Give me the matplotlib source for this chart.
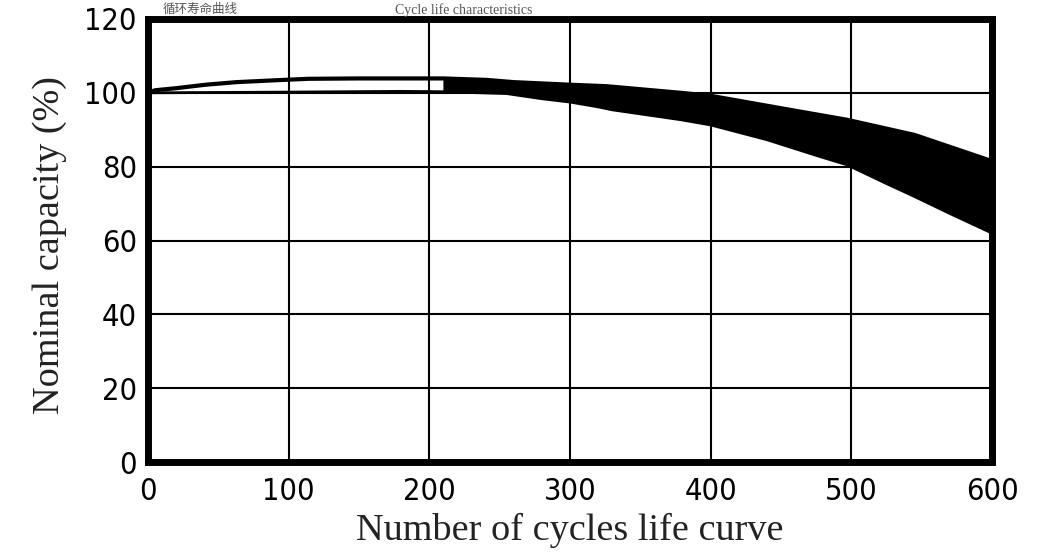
import matplotlib
matplotlib.use("Agg")
import matplotlib.pyplot as plt
import numpy as np

# upper / lower edge of the capacity band
cycles_upper = [0, 5, 21, 41, 63, 96, 114, 150, 200, 210, 241, 260, 300, 326, 379, 400, 455, 497, 545, 600]
cap_upper = [100, 100.7, 101.3, 102.2, 102.9, 103.5, 103.8, 103.9, 103.9, 103.9, 103.5, 102.9, 102.2, 101.8,
             100.0, 99.2, 95.5, 92.7, 88.6, 81.5]
cycles_lower = [0, 100, 180, 210, 255, 280, 300, 320, 330, 379, 400, 440, 478, 497, 524, 545, 569, 600]
cap_lower = [100, 100.2, 100.4, 100.3, 99.8, 98.4, 97.5, 96.2, 95.4, 92.7, 91.3, 87.3, 82.7, 80.5, 75.6, 71.9, 67.5, 62.0]
fill_from = 210  # band is solid from here on, two thin strokes before

x_ticks = [0, 100, 200, 300, 400, 500, 600]
y_ticks = [0, 20, 40, 60, 80, 100, 120]

tick_font = ['DejaVu Sans']
label_font = ['Liberation Serif', 'DejaVu Serif']

fig = plt.figure(figsize=(10.43, 5.53), dpi=100, facecolor='white')
ax = fig.add_axes([148 / 1043, 91 / 553, 844 / 1043, 443 / 553])

ax.set_xlim(0, 600)
ax.set_ylim(0, 120)
ax.set_xticks(x_ticks)
ax.set_yticks(y_ticks)
ax.grid(True, color='black', linewidth=1.5, zorder=0)
ax.tick_params(length=0, labelsize=22, colors='black')
ax.tick_params(axis='x', pad=11)
ax.tick_params(axis='y', pad=8)
for lab in ax.get_xticklabels() + ax.get_yticklabels():
    lab.set_family(tick_font)
    lab.set_stretch('condensed')
for sp in ax.spines.values():
    sp.set_linewidth(5)
    sp.set_zorder(5)

# solid part of the band
cu = np.array(cycles_upper)
cl = np.array(cycles_lower)
mu = cu >= fill_from
ml = cl >= fill_from
poly_x = np.concatenate([cu[mu], cl[ml][::-1]])
poly_y = np.concatenate([np.array(cap_upper)[mu], np.array(cap_lower)[ml][::-1]])
ax.fill(poly_x, poly_y, color='black', linewidth=0, zorder=3)
ax.plot(cycles_upper, cap_upper, color='black', linewidth=3, zorder=4)
ax.plot(cycles_lower, cap_lower, color='black', linewidth=2, zorder=4)

ax.set_xlabel('Number of cycles life curve', fontsize=27.5, family=label_font, color='#222222', labelpad=5)
ax.set_ylabel('Nominal capacity (%)', fontsize=27.5, family=label_font, color='#222222')
ax.yaxis.set_label_coords(-0.096, 0.49)

# title strip above the frame (cut off in the original scan)
fig.text(163 / 1043, 1 - 3 / 553, '循环寿命曲线', fontsize=9, color='#555555',
         family=['Noto Sans CJK SC', 'DejaVu Sans'], ha='left', va='top')
fig.text(395 / 1043, 1 - 3 / 553, 'Cycle life characteristics', fontsize=10, color='#555555',
         family=label_font, ha='left', va='top')

fig.savefig('out.png', dpi=100, facecolor='white')
